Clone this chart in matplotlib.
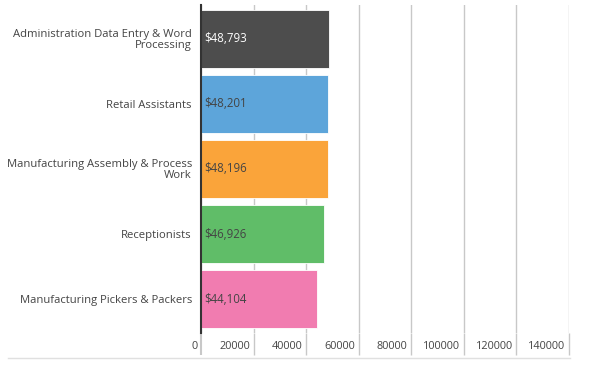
import matplotlib
matplotlib.use("Agg")
import matplotlib.pyplot as plt
from matplotlib.lines import Line2D

# data
categories = [
    "Administration Data Entry & Word\nProcessing",
    "Retail Assistants",
    "Manufacturing Assembly & Process\nWork",
    "Receptionists",
    "Manufacturing Pickers & Packers",
]
salaries = [48793, 48201, 48196, 46926, 44104]
bar_colors = ["#4d4d4d", "#5da5da", "#faa43a", "#60bd68", "#f17cb0"]
label_colors = ["white", "#444444", "#444444", "#444444", "#444444"]
x_ticks = [0, 20000, 40000, 60000, 80000, 100000, 120000, 140000]

plt.rcParams["font.family"] = ["Open Sans", "DejaVu Sans"]

fig = plt.figure(figsize=(5.97, 3.69), dpi=100)
ax = fig.add_axes([201 / 597, 1 - 333 / 369, 368 / 597, 328 / 369])

ypos = list(range(len(categories)))
ax.barh(ypos, salaries, height=0.89, color=bar_colors, edgecolor="white", linewidth=0.6, zorder=3)

for y, v, c in zip(ypos, salaries, label_colors):
    ax.text(1100, y, f"${v:,}", va="center", ha="left", fontsize=8.3,
            fontweight="medium", color=c, zorder=4)

ax.set_ylim(4.523, -0.523)
ax.set_xlim(0, 140000)
ax.set_yticks(ypos)
ax.set_yticklabels(categories, fontsize=8.1, color="#444444", linespacing=1.0)
ax.tick_params(axis="y", length=0, pad=6.5)

# vertical grid, ticks run down past the plot area
ax.set_xticks(x_ticks)
ax.set_xticklabels([])
ax.grid(axis="x", color="#c8c8c8", linewidth=1, zorder=0)
ax.tick_params(axis="x", length=16, width=1, color="#c8c8c8", direction="out")
ax.xaxis.get_major_ticks()[0].tick1line.set_color("#333333")
ax.xaxis.get_major_ticks()[0].tick1line.set_markeredgewidth(1.5)

for t in x_ticks:
    ax.text(t - 1400, -0.025, str(t), transform=ax.get_xaxis_transform(),
            ha="right", va="top", fontsize=7.8, color="#444444")

for side in ["top", "right", "bottom"]:
    ax.spines[side].set_visible(False)
ax.spines["left"].set_color("#333333")
ax.spines["left"].set_linewidth(1.5)
ax.spines["left"].set_zorder(5)

fig.add_artist(Line2D([8 / 597, 570 / 597], [1 - 358 / 369] * 2,
                      color="#e0e0e0", linewidth=1, transform=fig.transFigure))

fig.savefig("out.png", dpi=100, facecolor="white")
